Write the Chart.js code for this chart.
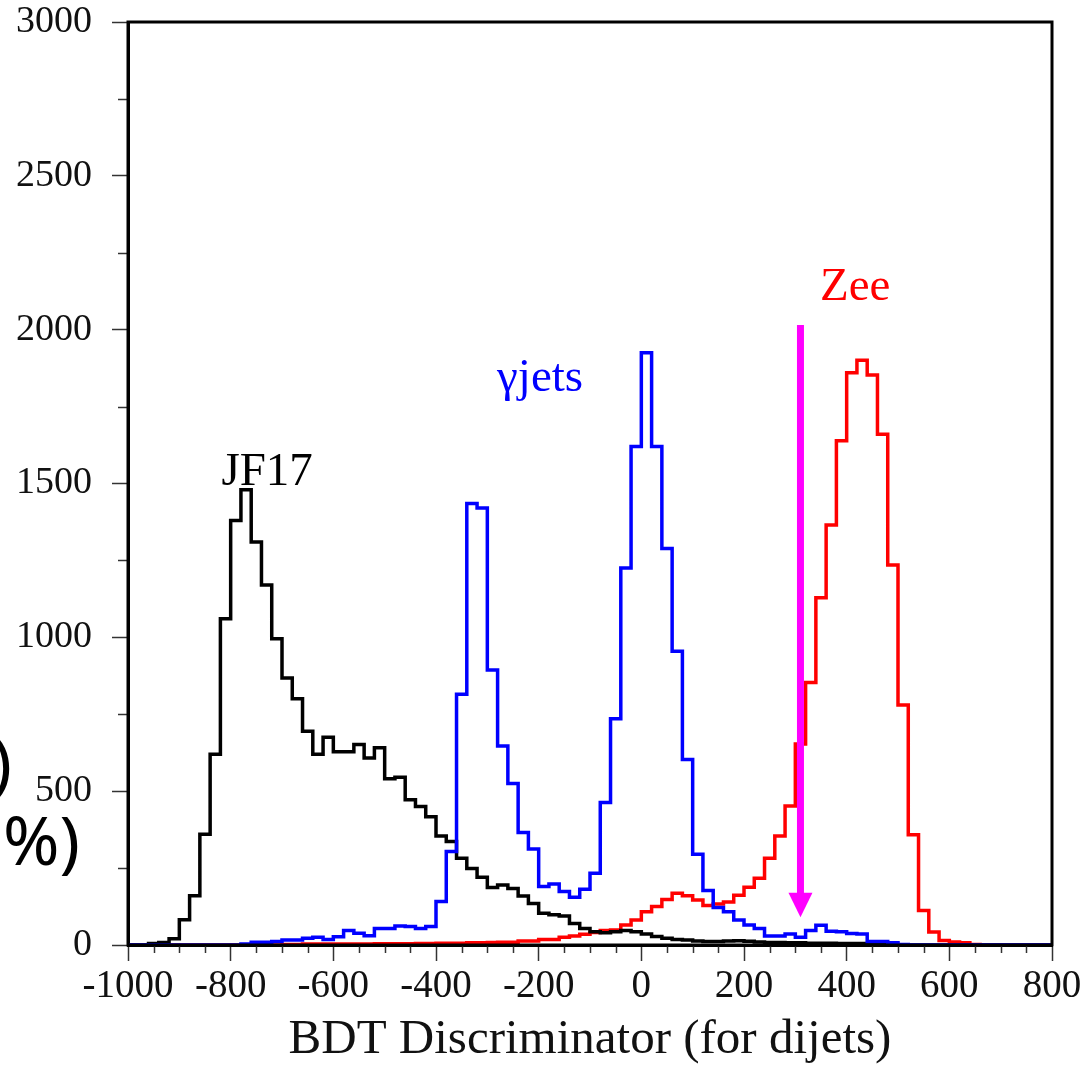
<!DOCTYPE html>
<html>
<head>
<meta charset="utf-8">
<script src="https://cdn.jsdelivr.net/npm/chart.js@4.4.0/dist/chart.umd.min.js"></script>
<style>
  html, body { margin: 0; padding: 0; background: #fff; }
  #wrap { width: 1088px; height: 1070px; }
</style>
</head>
<body>
<div id="wrap"><canvas id="bdt" width="1088" height="1070"></canvas></div>
<script>
// histogram bin edges (20 wide)
const binEdges = [-1000,-980,-960,-940,-920,-900,-880,-860,-840,-820,
  -800,-780,-760,-740,-720,-700,-680,-660,-640,-620,
  -600,-580,-560,-540,-520,-500,-480,-460,-440,-420,
  -400,-380,-360,-340,-320,-300,-280,-260,-240,-220,
  -200,-180,-160,-140,-120,-100,-80,-60,-40,-20,
  0,20,40,60,80,100,120,140,160,180,
  200,220,240,260,280,300,320,340,360,380,
  400,420,440,460,480,500,520,540,560,580,
  600,620,640,660,680,700,720,740,760,780,800];

// entries per bin
const jf17 = [0,0,5,8,20,82,160,360,620,1060,
  1380,1480,1310,1170,995,868,800,695,620,675,
  628,628,652,608,641,540,545,472,450,417,
  354,336,282,249,220,187,195,184,159,135,
  103,98,94,70,54,43,40,43,47,43,
  36,28,22,18,16,13,11,11,13,14,
  12,10,8,8,7,7,6,6,6,5,
  5,5,4,3,2,1,0,0,0,0,
  0,0,0,0,0,0,0,0,0,0];

const gammaJets = [0,0,0,0,0,0,0,0,0,0,
  0,3,9,9,11,16,16,22,25,18,
  27,47,38,30,54,54,62,60,54,60,
  141,304,815,1435,1420,894,647,525,366,312,
  190,198,174,155,181,233,463,735,1225,1620,
  1925,1620,1289,955,603,295,177,122,108,81,
  65,54,29,29,36,25,47,64,45,43,
  37,36,11,11,7,2,0,0,0,0,
  0,0,0,0,0,0,0,0,0,0];

const zee = [0,0,0,0,0,0,0,0,0,0,
  0,0,0,0,0,2,2,3,3,3,
  3,3,3,3,4,4,4,4,5,5,
  6,6,6,7,7,8,9,9,13,13,
  18,18,25,29,35,41,47,49,65,81,
  108,125,148,168,160,146,128,133,140,162,
  188,217,282,354,452,653,853,1129,1365,1639,
  1860,1901,1853,1660,1235,780,358,112,42,15,
  10,7,2,0,0,0,0,0,0,0];

// cut value marker (arrow), in data units
const cutX = 310;
const arrowTop = 2015;
const arrowHeadBase = 170;
const arrowTip = 90;

// in-plot labels, positioned in data units (left, baseline)
const labels = [
  { text: "JF17", x: -818, y: 1495, color: "#000" },
  { text: "\u03b3jets", x: -281, y: 1800, color: "#0000ff" },
  { text: "Zee", x: 348, y: 2098, color: "#ff0000" }
];

function toSteps(vals) {
  let pts = vals.map((v, i) => ({ x: binEdges[i], y: v }));
  pts.push({ x: binEdges[binEdges.length - 1], y: vals[vals.length - 1] });
  return pts;
}

Chart.defaults.font.family = "'Liberation Serif', 'Times New Roman', serif";

const annotate = {
  id: "annotate",
  afterDatasetsDraw(chart) {
    const { ctx, chartArea: a, scales: { x, y } } = chart;
    ctx.save();

    // minor ticks
    ctx.strokeStyle = "#333";
    ctx.lineWidth = 1.5;
    for (let v = -950; v < 800; v += 50) {
      if (v % 200 === 0) continue;
      let px = Math.round(x.getPixelForValue(v)) + 0.5;
      ctx.beginPath();
      ctx.moveTo(px, a.bottom);
      ctx.lineTo(px, a.bottom + 8);
      ctx.stroke();
    }
    for (let v = 250; v < 3000; v += 500) {
      let py = Math.round(y.getPixelForValue(v)) + 0.5;
      ctx.beginPath();
      ctx.moveTo(a.left, py);
      ctx.lineTo(a.left - 10, py);
      ctx.stroke();
    }

    // frame
    ctx.strokeStyle = "#000";
    ctx.lineWidth = 3;
    ctx.strokeRect(a.left, a.top, a.right - a.left, a.bottom - a.top);

    // arrow
    let ax = x.getPixelForValue(cutX);
    ctx.strokeStyle = "#ff00ff";
    ctx.fillStyle = "#ff00ff";
    ctx.lineWidth = 7;
    ctx.beginPath();
    ctx.moveTo(ax, y.getPixelForValue(arrowTop));
    ctx.lineTo(ax, y.getPixelForValue(arrowHeadBase) + 2);
    ctx.stroke();
    ctx.beginPath();
    ctx.moveTo(ax - 12, y.getPixelForValue(arrowHeadBase));
    ctx.lineTo(ax + 12, y.getPixelForValue(arrowHeadBase));
    ctx.lineTo(ax, y.getPixelForValue(arrowTip));
    ctx.closePath();
    ctx.fill();

    // labels
    ctx.font = "47px 'Liberation Serif'";
    ctx.textAlign = "left";
    ctx.textBaseline = "alphabetic";
    labels.forEach(l => {
      ctx.fillStyle = l.color;
      ctx.fillText(l.text, x.getPixelForValue(l.x), y.getPixelForValue(l.y));
    });

    // cut-off text at left edge of the picture
    ctx.fillStyle = "#000";
    ctx.font = "68px 'Noto Sans'";
    ctx.textAlign = "right";
    ctx.fillText(")", 12, 787);
    ctx.fillText("%)", 80, 865);

    ctx.restore();
  }
};

new Chart(document.getElementById("bdt"), {
  type: "line",
  data: {
    datasets: [
      { label: "gamma jets", data: toSteps(gammaJets), borderColor: "#0000ff", order: 0 },
      { label: "JF17", data: toSteps(jf17), borderColor: "#000000", order: 1 },
      { label: "Zee", data: toSteps(zee), borderColor: "#ff0000", order: 2 }
    ]
  },
  options: {
    responsive: false,
    animation: false,
    devicePixelRatio: 1,
    layout: { padding: { top: 22, right: 36, left: 0, bottom: 0 } },
    elements: {
      line: { stepped: "before", borderWidth: 3.5, fill: false, tension: 0 },
      point: { radius: 0 }
    },
    plugins: { legend: { display: false }, tooltip: { enabled: false } },
    scales: {
      x: {
        type: "linear",
        min: -1000,
        max: 800,
        afterFit(s) { s.height = 125; s.paddingLeft = 0; s.paddingRight = 0; },
        ticks: {
          stepSize: 200, color: "#111", font: { size: 39 }, padding: 2,
          maxRotation: 0, autoSkip: false,
          callback: v => String(v)
        },
        grid: { drawOnChartArea: false, tickLength: 16, tickWidth: 1.5, tickColor: "#333" },
        border: { color: "#000", width: 3 },
        title: {
          display: true,
          text: "BDT Discriminator (for dijets)",
          color: "#111",
          font: { size: 49 },
          padding: { top: 0, bottom: 0 }
        }
      },
      y: {
        min: 0,
        max: 3000,
        afterFit(s) { s.width = 128; s.paddingTop = 0; s.paddingBottom = 0; },
        ticks: { stepSize: 500, color: "#111", font: { size: 38 }, padding: 20, callback: v => String(v) },
        grid: { drawOnChartArea: false, tickLength: 16, tickWidth: 1.5, tickColor: "#333" },
        border: { color: "#000", width: 3 }
      }
    }
  },
  plugins: [annotate]
});
</script>
</body>
</html>
